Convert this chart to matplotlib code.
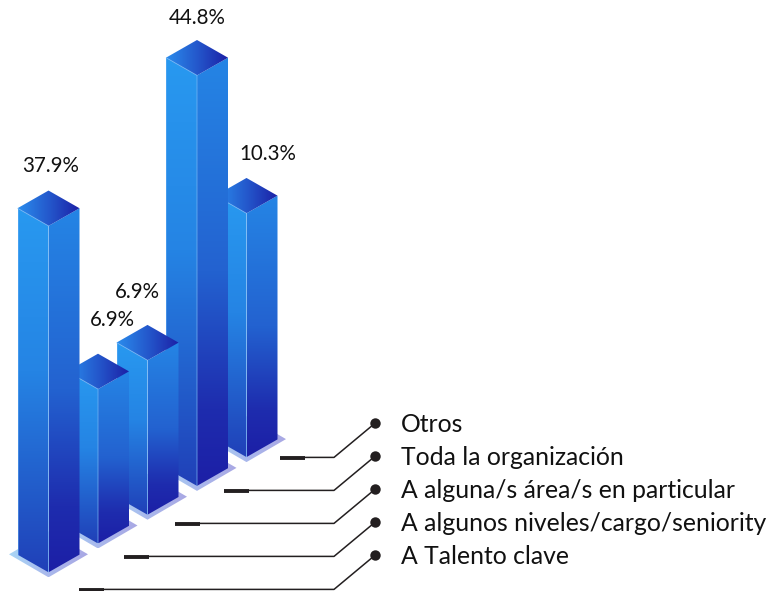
#!/usr/bin/env python3
"""Isometric bar chart with leader-line legend."""
import matplotlib
matplotlib.use("Agg")
import matplotlib.pyplot as plt
import numpy as np
from matplotlib.colors import LinearSegmentedColormap
from matplotlib.patches import Polygon

# bars front to back
categories = ["A Talento clave", "A algunos niveles/cargo/seniority",
              "A alguna/s área/s en particular", "Toda la organización", "Otros"]
value_labels = ["37.9%", "6.9%", "6.9%", "44.8%", "10.3%"]
# drawn heights are not proportional to the labels in the source graphic
bar_heights = [37.8, 16.85, 16.85, 44.8, 26.6]

UNIT = 9.163
FRONT0 = (48.5, 572.3)
STEP = (49.5, -28.8)
HALF_W, HALF_H = 31.0, 17.7

INK = "#231f20"
left_cmap = LinearSegmentedColormap.from_list("l", [(0, "#2899f0"), (0.45, "#2584e4"), (1, "#2040b8")])
right_cmap = LinearSegmentedColormap.from_list("r", [(0, "#2585e5"), (0.5, "#2362d0"), (0.82, "#1e2cae"), (1, "#1c1fa6")])
top_cmap = LinearSegmentedColormap.from_list("t", ["#2a8cec", "#2458cc", "#1c20a6"])
base_cmap = LinearSegmentedColormap.from_list("b", ["#a9d6f6", "#a9b8ec", "#a9a8e4"])

fig = plt.figure(figsize=(7.69, 5.91), dpi=100)
ax = fig.add_axes([0, 0, 1, 1])
ax.set_axis_off()
plt.rcParams["font.family"] = ["Lato", "DejaVu Sans"]


def grad_poly(pts, cmap, vertical, z):
    pts = np.array(pts)
    x0, x1 = pts[:, 0].min(), pts[:, 0].max()
    y0, y1 = pts[:, 1].min(), pts[:, 1].max()
    g = np.linspace(0, 1, 256)
    g = g[:, None] if vertical else g[None, :]
    im = ax.imshow(g, cmap=cmap, extent=(x0, x1, y1, y0), origin="upper",
                   aspect="auto", zorder=z, vmin=0, vmax=1)
    im.set_clip_path(Polygon(pts, transform=ax.transData))


z = 1
for i in reversed(range(len(bar_heights))):
    fx, fy = FRONT0[0] + i * STEP[0], FRONT0[1] + i * STEP[1]
    h = bar_heights[i] * UNIT
    ty = fy - h

    # pale footprint under the bar
    cy = fy - 18
    grad_poly([(fx - 39.5, cy), (fx, cy + 23), (fx + 39.5, cy), (fx, cy - 23)],
              base_cmap, False, z)
    left = [(fx - HALF_W, ty - HALF_H), (fx, ty), (fx, fy), (fx - HALF_W, fy - HALF_H)]
    right = [(fx, ty), (fx + HALF_W, ty - HALF_H), (fx + HALF_W, fy - HALF_H), (fx, fy)]
    top = [(fx - HALF_W, ty - HALF_H), (fx, ty), (fx + HALF_W, ty - HALF_H), (fx, ty - 2 * HALF_H)]
    grad_poly(left, left_cmap, True, z + 0.1)
    grad_poly(right, right_cmap, True, z + 0.1)
    grad_poly(top, top_cmap, False, z + 0.2)
    # light edges
    ax.plot([fx - HALF_W, fx, fx], [ty - HALF_H, ty, fy], color="#7ab8f5",
            lw=0.7, alpha=0.7, zorder=z + 0.3, solid_capstyle="butt")
    ax.plot([fx - HALF_W, fx - HALF_W], [ty - HALF_H, fy - HALF_H], color="#6ab0f5",
            lw=0.7, alpha=0.5, zorder=z + 0.3)
    z += 1

# value labels
label_x = [51, 112, 137, 197, 268]
label_y = [166.5, 320.5, 292.5, 17.5, 153.5]
for s, lx, ly in zip(value_labels, label_x, label_y):
    ax.text(lx, ly, s, ha="center", va="center", fontsize=14.8, color="#111111", zorder=20)

# leaders + legend
for i, cat in enumerate(categories):
    sx = [79, 124, 175, 224, 280][i]
    ly = 589.4 - i * 33.0
    dy = 555.0 - i * 33.0
    ax.plot([sx, sx + 25], [ly + 0.4, ly + 0.4], color=INK, lw=2.8, solid_capstyle="butt", zorder=21)
    ax.plot([sx + 25, 334, 375.3], [ly, ly, dy], color=INK, lw=1.1, zorder=21)
    ax.plot([375.3], [dy], "o", ms=7.5, color=INK, mec="none", zorder=22)
    ax.text(401, dy + 1.5, cat, ha="left", va="center", fontsize=17.8, color="#111111", zorder=22)

ax.set_xlim(0, 769)
ax.set_ylim(591, 0)
fig.savefig("out.png", dpi=100)
